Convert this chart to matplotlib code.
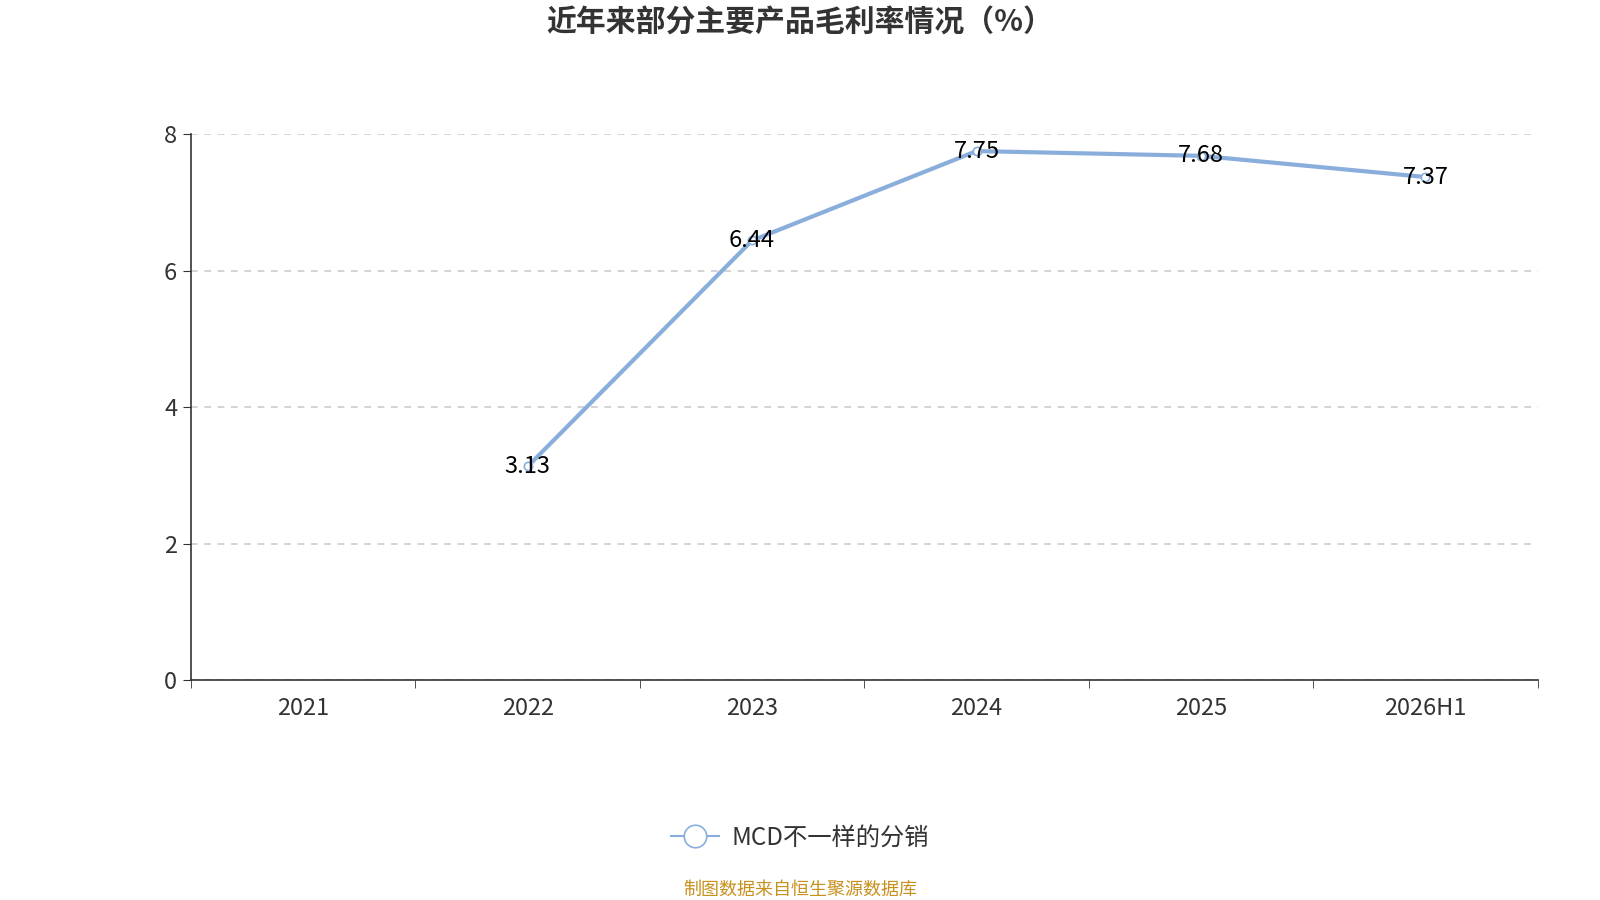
import matplotlib
matplotlib.use('Agg')
import matplotlib.pyplot as plt
import numpy as np

plt.rcParams['font.family'] = ['Noto Sans CJK SC', 'DejaVu Sans']

categories = ['2021', '2022', '2023', '2024', '2025', '2026H1']
margin = [np.nan, 3.13, 6.44, 7.75, 7.68, 7.37]
series_name = 'MCD不一样的分销'
title = '近年来部分主要产品毛利率情况（%）'
source = '制图数据来自恒生聚源数据库'

line_color = '#8aaedc'

fig = plt.figure(figsize=(16, 9), dpi=100)
ax = fig.add_axes([0.1194, 0.2444, 0.8416, 0.6067])

x = np.arange(len(categories))
ax.plot(x, margin, color=line_color, lw=3, marker='o', ms=6,
        markerfacecolor='white', markeredgecolor=line_color, markeredgewidth=1.2,
        label=series_name, zorder=3)

# value labels centered on the points
for xi, v in zip(x, margin):
    if not np.isnan(v):
        ax.text(xi, v, f'{v:.2f}', ha='center', va='center', fontsize=17,
                color='black', zorder=4)

ax.set_xlim(-0.5, len(categories) - 0.5)
ax.set_ylim(0, 8)
ax.set_yticks([0, 2, 4, 6, 8])
ax.set_xticks(x)
ax.set_xticklabels(categories)
ax.set_xticks(np.arange(len(categories) + 1) - 0.5, minor=True)
ax.tick_params(axis='x', which='major', length=0, pad=12, labelsize=17, labelcolor='#333333')
ax.tick_params(axis='x', which='minor', length=6, direction='out', color='#333333')
ax.tick_params(axis='y', length=6, direction='out', pad=4, labelsize=17,
               labelcolor='#333333', color='#333333')

ax.grid(axis='y', ls=(0, (4, 4)), color='#cccccc', lw=1.2)
ax.set_axisbelow(True)
for s in ['top', 'right']:
    ax.spines[s].set_visible(False)
ax.spines['left'].set_color('#333333')
ax.spines['bottom'].set_color('#333333')
ax.spines['left'].set_linewidth(1.2)
ax.spines['bottom'].set_linewidth(1.2)

fig.text(0.5, 0.975, title, ha='center', va='center', fontsize=21.5,
         fontweight='bold', color='#333333')

leg = fig.legend(loc='center', bbox_to_anchor=(0.5, 0.069), frameon=False,
                 fontsize=17.5, handlelength=2.0, handletextpad=0.5,
                 markerscale=2.7)
for t in leg.get_texts():
    t.set_color('#333333')
for h in leg.get_lines():
    h.set_linewidth(1.5)

fig.text(0.5, 0.012, source, ha='center', va='center', fontsize=13,
         color='#c8901c')

fig.savefig('out.png', dpi=100)
